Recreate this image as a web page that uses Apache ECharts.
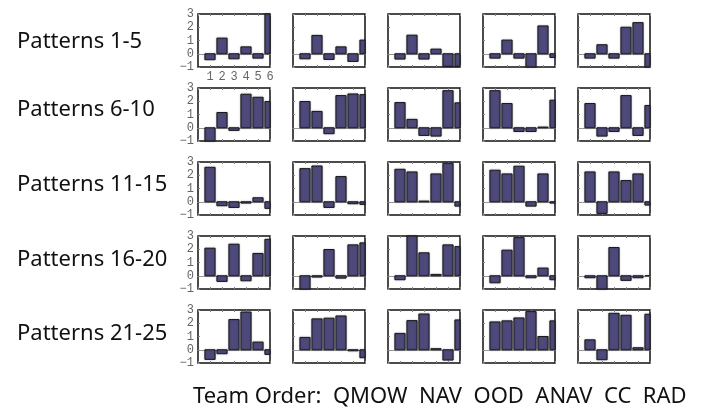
<!DOCTYPE html>
<html>
<head>
<meta charset="utf-8">
<script src="https://cdn.jsdelivr.net/npm/echarts/dist/echarts.min.js"></script>
<style>
  html, body { margin: 0; padding: 0; background: #fff; }
  #chart { width: 704px; height: 408px; }
</style>
</head>
<body>
<div id="chart"></div>
<script>
// Team order along each small panel's x axis
const teams = ['QMOW', 'NAV', 'OOD', 'ANAV', 'CC', 'RAD'];
const xTicks = [1, 2, 3, 4, 5, 6];
const yTicks = [-1, 0, 1, 2, 3];
const rowLabels = ['Patterns 1-5', 'Patterns 6-10', 'Patterns 11-15', 'Patterns 16-20', 'Patterns 21-25'];

// One list of six team scores per pattern
const patterns1to5 = [
  [-0.45, 1.18, -0.38, 0.52, -0.33, 3.0],
  [-0.38, 1.38, -0.43, 0.52, -0.58, 1.03],
  [-0.4, 1.4, -0.4, 0.35, -0.95, -0.95],
  [-0.33, 1.03, -0.33, -1.0, 2.1, -0.28],
  [-0.33, 0.68, -0.33, 2.0, 2.35, -1.0]
];
const patterns6to10 = [
  [-1.0, 1.15, -0.2, 2.53, 2.3, 1.98],
  [1.98, 1.23, -0.45, 2.43, 2.55, 2.5],
  [1.9, 0.63, -0.58, -0.63, 2.8, 1.88],
  [2.8, 1.83, -0.28, -0.28, 0.05, 2.08],
  [1.83, -0.63, -0.28, 2.43, -0.58, 1.68]
];
const patterns11to15 = [
  [2.6, -0.3, -0.43, -0.1, 0.3, -0.5],
  [2.5, 2.7, -0.43, 1.9, -0.15, -0.2],
  [2.45, 2.25, 0.05, 2.1, 2.9, -0.33],
  [2.38, 2.1, 2.68, -0.33, 2.1, -0.1],
  [2.25, -0.88, 2.25, 1.6, 2.1, -0.25]
];
const patterns16to20 = [
  [2.08, -0.43, 2.38, -0.38, 1.68, 2.75],
  [-1.0, -0.1, 1.98, -0.18, 2.33, 2.48],
  [-0.3, 3.0, 1.73, 0.1, 2.33, 2.2],
  [-0.53, 1.93, 2.88, -0.15, 0.58, -0.3],
  [-0.15, -1.0, 2.13, -0.35, -0.15, 0.0]
];
const patterns21to25 = [
  [-0.73, -0.3, 2.28, 2.85, 0.58, -0.35],
  [0.93, 2.33, 2.38, 2.55, -0.08, -0.6],
  [1.23, 2.2, 2.7, 0.08, -0.78, 2.25],
  [2.1, 2.18, 2.4, 2.88, 1.0, 2.18],
  [0.75, -0.75, 2.75, 2.6, 0.15, 2.68]
];
const patternRows = [patterns1to5, patterns6to10, patterns11to15, patterns16to20, patterns21to25];

// Panel grid geometry
const panelLeft = 198, panelStepX = 95, panelW = 72;
const panelTop = 14, panelStepY = 74, panelH = 53;
const barFrac = 0.85; // bar width in x-axis units

const labelFont = 'Liberation Mono, DejaVu Sans Mono, monospace';
const grids = [], xAxes = [], yAxes = [], series = [];

// Bars drawn as clipped rectangles so the last bar is cut at the panel edge
function renderBar(params, api) {
  const x = api.value(0), v = api.value(1);
  const base = api.coord([x, 0]);
  const top = api.coord([x, v]);
  const w = api.size([barFrac, 0])[0];
  const cs = params.coordSys;
  const shape = echarts.graphic.clipRectByRect(
    { x: base[0] - w / 2, y: Math.min(base[1], top[1]), width: w, height: Math.abs(top[1] - base[1]) },
    { x: cs.x, y: cs.y, width: cs.width, height: cs.height }
  );
  if (!shape) return null;
  return {
    type: 'rect',
    shape: shape,
    style: {
      fill: '#4d497b',
      stroke: '#1a1a1a',
      lineWidth: 1,
      shadowColor: 'rgba(0,0,0,0.25)',
      shadowBlur: 2
    }
  };
}

patternRows.forEach((row, r) => {
  row.forEach((vals, c) => {
    const g = grids.length;
    grids.push({
      left: panelLeft + c * panelStepX,
      top: panelTop + r * panelStepY,
      width: panelW,
      height: panelH,
      show: true,
      borderColor: '#111',
      borderWidth: 1.5,
      backgroundColor: '#fff'
    });
    const showX = (r === 0 && c === 0);
    // bottom axis: inner ticks and (first panel only) team numbers
    xAxes.push({
      type: 'value', gridIndex: g, min: 0, max: 6, interval: 1,
      position: 'bottom',
      axisLine: { show: false, onZero: false },
      axisTick: { show: true, inside: true, length: 2, lineStyle: { color: '#888' } },
      splitLine: { show: false },
      axisLabel: {
        show: showX,
        showMinLabel: false,
        formatter: v => (xTicks.indexOf(v) >= 0 ? String(v) : ''),
        fontFamily: labelFont, fontSize: 12, color: '#666', margin: 4
      }
    });
    // zero baseline
    xAxes.push({
      type: 'value', gridIndex: g, min: 0, max: 6,
      position: 'bottom',
      axisLine: { show: true, onZero: true, lineStyle: { color: '#9a9a9a', width: 1 } },
      axisTick: { show: false },
      axisLabel: { show: false },
      splitLine: { show: false }
    });
    // top edge ticks
    xAxes.push({
      type: 'value', gridIndex: g, min: 0, max: 6, interval: 1,
      position: 'top',
      axisLine: { show: false, onZero: false },
      axisTick: { show: true, inside: true, length: 2, lineStyle: { color: '#888' } },
      axisLabel: { show: false },
      splitLine: { show: false }
    });
    yAxes.push({
      type: 'value', gridIndex: g, min: yTicks[0], max: yTicks[yTicks.length - 1], interval: 1,
      axisLine: { show: false },
      axisTick: { show: true, inside: true, length: 2, lineStyle: { color: '#888' } },
      splitLine: { show: false },
      axisLabel: {
        show: c === 0,
        formatter: v => (v < 0 ? '\u2212' + Math.abs(v) : String(v)),
        fontFamily: labelFont, fontSize: 12, color: '#666', margin: 4
      }
    });
    series.push({
      type: 'custom',
      xAxisIndex: g * 3,
      yAxisIndex: g,
      renderItem: renderBar,
      encode: { x: 0, y: 1 },
      silent: true,
      data: vals.map((v, k) => [xTicks[k], v])
    });
  });
});

const rowCenters = [42, 110, 185, 260, 334];
const graphics = rowLabels.map((t, i) => ({
  type: 'text',
  left: 17,
  top: rowCenters[i] - 11,
  style: {
    text: t,
    fill: '#111',
    font: '22px "Noto Sans", sans-serif'
  }
}));
graphics.push({
  type: 'text',
  left: 193,
  top: 386,
  style: {
    text: 'Team Order:  ' + teams.join('  '),
    fill: '#111',
    font: '22px "Noto Sans", sans-serif'
  }
});

const chart = echarts.init(document.getElementById('chart'), null, { renderer: 'canvas' });
chart.setOption({
  animation: false,
  backgroundColor: '#fff',
  grid: grids,
  xAxis: xAxes,
  yAxis: yAxes,
  series: series,
  graphic: graphics
});
</script>
</body>
</html>
